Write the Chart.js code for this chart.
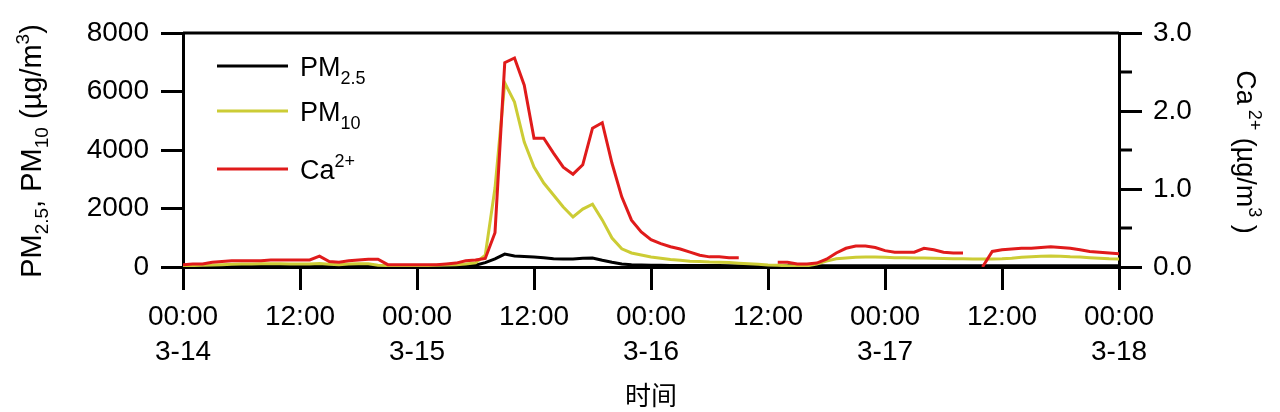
<!DOCTYPE html>
<html>
<head>
<meta charset="utf-8">
<script src="https://cdn.jsdelivr.net/npm/chart.js@4.4.0/dist/chart.umd.min.js"></script>
<style>
  html, body { margin: 0; padding: 0; background: #fff; }
</style>
</head>
<body>
<canvas id="chart" width="1280" height="412"></canvas>
<script>
// hourly samples, 3-14 00:00 .. 3-18 00:00
const dayLabels = ['3-14', '3-15', '3-16', '3-17', '3-18'];

const pm25 = [
  30, 30, 30, 30, 30, 30, 30, 30, 30, 30, 30, 30, 30, 30, 35, 30, 30, 30, 30, 30,
  30, 25, 25, 25, 25, 25, 25, 25, 30, 40, 60, 150, 280, 440, 380, 360, 340, 320, 280, 270,
  270, 300, 310, 230, 160, 100, 80, 70, 60, 60, 55, 50, 50, 50, 50, 50, 45, 45, 40, 40,
  40, 40, 40, 40, 40, 40, 45, 45, 45, 45, 45, 45, 45, 45, 45, 45, 45, 45, 45, 45,
  45, 45, 45, 45, 45, 45, 45, 45, 45, 45, 45, 45, 45, 45, 45, 45, 45
];

const pm10 = [
  40, 50, 60, 70, 80, 90, 100, 100, 110, 110, 110, 100, 100, 100, 120, 90, 80, 100, 110, 110,
  60, 50, 50, 50, 50, 50, 60, 70, 80, 100, 140, 400, 2700, 6300, 5640, 4270, 3420, 2870, 2460, 2050,
  1710, 1980, 2150, 1610, 990, 620, 480, 410, 340, 300, 260, 230, 200, 190, 170, 160, 150, 130, 110, 90,
  70, 60, 40, 35, 40, 100, 200, 280, 310, 330, 340, 340, 330, 320, 320, 310, 310, 300, 290, 280,
  280, 270, 270, 270, 280, 300, 330, 350, 370, 375, 370, 350, 340, 320, 300, 280, 270
];

const ca = [
  0.03, 0.04, 0.04, 0.06, 0.07, 0.08, 0.08, 0.08, 0.08, 0.09, 0.09, 0.09, 0.09, 0.09, 0.14, 0.07, 0.06, 0.08, 0.09, 0.10,
  0.10, 0.03, 0.03, 0.03, 0.03, 0.03, 0.03, 0.04, 0.05, 0.08, 0.09, 0.11, 0.44, 2.62, 2.68, 2.33, 1.65, 1.65, 1.46, 1.28,
  1.19, 1.31, 1.78, 1.85, 1.33, 0.90, 0.60, 0.45, 0.35, 0.30, 0.26, 0.23, 0.19, 0.15, 0.13, 0.13, 0.12, 0.12, null, null,
  null, 0.06, 0.06, 0.04, 0.04, 0.05, 0.10, 0.18, 0.24, 0.27, 0.27, 0.25, 0.21, 0.19, 0.19, 0.19, 0.24, 0.22, 0.19, 0.18,
  0.18, null, 0.0, 0.20, 0.22, 0.23, 0.24, 0.24, 0.25, 0.26, 0.25, 0.24, 0.22, 0.20, 0.19, 0.18, 0.17
];

const hours = pm10.map((_, i) => i);
const toPoints = arr => arr.map((v, i) => ({ x: hours[i], y: v }));

const FONT = '"Liberation Sans", Arial, sans-serif';
const RED = '#e01b1b';
const YELLOW = '#cccc35';

// text with sub/superscripts: [text, size, baselineShift]
function drawRich(ctx, parts, x, y, align) {
  let w = 0;
  parts.forEach(p => { ctx.font = p[1] + 'px ' + FONT; w += ctx.measureText(p[0]).width; });
  let cx = align === 'center' ? x - w / 2 : x;
  parts.forEach(p => {
    ctx.font = p[1] + 'px ' + FONT;
    ctx.fillText(p[0], cx, y + p[2]);
    cx += ctx.measureText(p[0]).width;
  });
}

const decor = {
  id: 'decor',
  afterDraw(chart) {
    const { ctx, chartArea: a } = chart;
    const yR = chart.scales.yR;
    ctx.save();
    ctx.strokeStyle = '#000';
    ctx.lineWidth = 3;
    // top frame
    ctx.beginPath();
    ctx.moveTo(a.left, a.top);
    ctx.lineTo(a.right, a.top);
    ctx.stroke();
    // minor ticks on right axis
    yR.ticks.forEach(t => {
      if (t.value % 1 !== 0) {
        const y = yR.getPixelForValue(t.value);
        ctx.beginPath();
        ctx.moveTo(a.right, y);
        ctx.lineTo(a.right + 13, y);
        ctx.stroke();
      }
    });

    // legend
    ctx.fillStyle = '#000';
    ctx.textAlign = 'left';
    ctx.textBaseline = 'alphabetic';
    const items = [
      { color: '#000', y: 66, parts: [['PM', 27, 0], ['2.5', 18, 8]] },
      { color: YELLOW, y: 111, parts: [['PM', 27, 0], ['10', 18, 8]] },
      { color: RED, y: 169, parts: [['Ca', 27, 0], ['2+', 18, -12]] }
    ];
    items.forEach(it => {
      ctx.strokeStyle = it.color;
      ctx.beginPath();
      ctx.moveTo(a.left + 34, it.y);
      ctx.lineTo(a.left + 105, it.y);
      ctx.stroke();
      drawRich(ctx, it.parts, a.left + 117, it.y + 10, 'left');
    });

    // left axis title
    ctx.save();
    ctx.translate(30, 151);
    ctx.rotate(-Math.PI / 2);
    drawRich(ctx, [['PM', 29, 0], ['2.5', 19, 7], [', PM', 29, 0], ['10', 19, 7],
      [' (\u00b5g/m', 29, 0], ['3', 19, -12], [')', 29, 0]], 0, 10.5, 'center');
    ctx.restore();

    // right axis title
    ctx.save();
    ctx.translate(1247, 152);
    ctx.rotate(Math.PI / 2);
    drawRich(ctx, [['Ca', 27, 0], [' 2+', 18, -12], [' (\u00b5g/m', 27, 0], ['3', 18, -12], [' )', 27, 0]],
      0, 9.7, 'center');
    ctx.restore();
    ctx.restore();
  }
};

const axisGrid = len => ({
  drawOnChartArea: false,
  drawTicks: true,
  tickLength: len,
  tickWidth: 3,
  tickColor: '#000',
  color: '#000',
  lineWidth: 3
});

new Chart(document.getElementById('chart'), {
  type: 'line',
  data: {
    datasets: [
      { label: 'Ca2+', data: toPoints(ca), yAxisID: 'yR', borderColor: RED, borderWidth: 3, order: 0 },
      { label: 'PM10', data: toPoints(pm10), yAxisID: 'y', borderColor: YELLOW, borderWidth: 3, order: 1 },
      { label: 'PM2.5', data: toPoints(pm25), yAxisID: 'y', borderColor: '#000', borderWidth: 3, order: 2 }
    ]
  },
  options: {
    responsive: false,
    animation: false,
    devicePixelRatio: 1,
    layout: { padding: { top: 33, left: 0, right: 0, bottom: 0 } },
    spanGaps: false,
    elements: {
      line: { borderWidth: 3, tension: 0, fill: false },
      point: { radius: 0 }
    },
    plugins: {
      legend: { display: false },
      tooltip: { enabled: false }
    },
    scales: {
      x: {
        type: 'linear',
        min: 0,
        max: 96,
        afterFit: s => { s.height = 145; },
        border: { display: true, color: '#000', width: 3 },
        grid: axisGrid(23),
        ticks: {
          stepSize: 12,
          autoSkip: false,
          maxRotation: 0,
          padding: 10,
          color: '#000',
          font: { family: FONT, size: 28, lineHeight: 1.25 },
          callback: v => v % 24 === 0 ? ['00:00', dayLabels[v / 24]] : '12:00'
        },
        title: {
          display: true,
          text: '时间',
          color: '#000',
          font: { family: '"Noto Sans CJK SC", sans-serif', size: 26, lineHeight: 1.2 },
          padding: { top: 0, bottom: 1 }
        }
      },
      y: {
        position: 'left',
        min: 0,
        max: 8000,
        afterFit: s => { s.width = 183; },
        border: { display: true, color: '#000', width: 3 },
        grid: axisGrid(22),
        ticks: {
          stepSize: 2000,
          autoSkip: false,
          padding: 12,
          color: '#000',
          font: { family: FONT, size: 28 },
          callback: v => String(v)
        }
      },
      yR: {
        position: 'right',
        min: 0,
        max: 3,
        afterFit: s => { s.width = 161; },
        border: { display: true, color: '#000', width: 3 },
        grid: Object.assign(axisGrid(23), {
          tickColor: c => (c.tick && c.tick.value % 1 !== 0) ? 'rgba(0,0,0,0)' : '#000'
        }),
        ticks: {
          stepSize: 0.5,
          autoSkip: false,
          padding: 11,
          color: '#000',
          font: { family: FONT, size: 28 },
          callback: v => v % 1 === 0 ? v.toFixed(1) : ''
        }
      }
    }
  },
  plugins: [decor]
});
</script>
</body>
</html>
